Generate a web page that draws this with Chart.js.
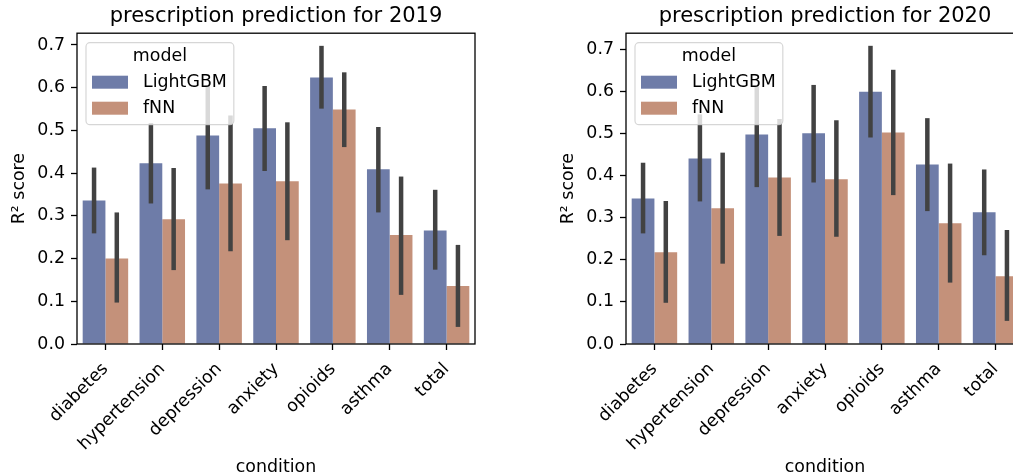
<!DOCTYPE html>
<html>
<head>
<meta charset="utf-8">
<script src="https://cdn.jsdelivr.net/npm/chart.js@4.4.0/dist/chart.umd.min.js"></script>
<style>
  html, body { margin: 0; padding: 0; background: #fff; overflow: hidden; }
  body { width: 1013px; height: 476px; position: relative; }
  .panel { position: absolute; top: 0; width: 552px; height: 476px; }
</style>
</head>
<body>
<div class="panel" style="left:0"><canvas id="chart2019"></canvas></div>
<div class="panel" style="left:548.5px"><canvas id="chart2020"></canvas></div>
<script>
// categories
const conditions = ['diabetes', 'hypertension', 'depression', 'anxiety', 'opioids', 'asthma', 'total'];
const models = ['LightGBM', 'fNN'];

// 2019 mean R2 and confidence interval ends
const lgbm2019 = [0.336, 0.423, 0.488, 0.505, 0.624, 0.409, 0.266];
const lgbm2019Lo = [0.259, 0.329, 0.362, 0.405, 0.551, 0.308, 0.174];
const lgbm2019Hi = [0.413, 0.517, 0.605, 0.604, 0.698, 0.508, 0.361];
const fnn2019 = [0.200, 0.292, 0.376, 0.381, 0.549, 0.255, 0.136];
const fnn2019Lo = [0.097, 0.173, 0.217, 0.243, 0.461, 0.115, 0.040];
const fnn2019Hi = [0.308, 0.412, 0.535, 0.519, 0.636, 0.392, 0.232];

// 2020
const lgbm2020 = [0.346, 0.441, 0.498, 0.501, 0.600, 0.427, 0.313];
const lgbm2020Lo = [0.263, 0.339, 0.373, 0.384, 0.491, 0.316, 0.211];
const lgbm2020Hi = [0.431, 0.546, 0.612, 0.616, 0.709, 0.537, 0.415];
const fnn2020 = [0.218, 0.323, 0.396, 0.392, 0.503, 0.287, 0.161];
const fnn2020Lo = [0.098, 0.191, 0.257, 0.255, 0.354, 0.146, 0.055];
const fnn2020Hi = [0.340, 0.455, 0.535, 0.532, 0.652, 0.429, 0.271];

const yTicks = [0, 0.1, 0.2, 0.3, 0.4, 0.5, 0.6, 0.7];

const BLUE = 'rgb(110,124,168)';
const ORANGE = 'rgb(196,145,122)';
const FONT = 'DejaVu Sans';

// error bars from dataset.ciLo / ciHi, drawn through the y scale
const errorBars = {
  id: 'errorBars',
  afterDatasetsDraw(chart) {
    const ctx = chart.ctx;
    const y = chart.scales.y;
    ctx.save();
    ctx.strokeStyle = 'rgb(66,66,66)';
    ctx.lineWidth = 4.5;
    chart.data.datasets.forEach((ds, i) => {
      chart.getDatasetMeta(i).data.forEach((bar, j) => {
        ctx.beginPath();
        ctx.moveTo(bar.x, y.getPixelForValue(ds.ciLo[j]));
        ctx.lineTo(bar.x, y.getPixelForValue(ds.ciHi[j]));
        ctx.stroke();
      });
    });
    ctx.restore();
  }
};

// matplotlib style frame + legend box
const frameAndLegend = {
  id: 'frameAndLegend',
  afterDraw(chart) {
    const ctx = chart.ctx;
    const a = chart.chartArea;
    ctx.save();
    ctx.strokeStyle = '#000';
    ctx.lineWidth = 1.3;
    ctx.strokeRect(a.left, a.top, a.right - a.left, a.bottom - a.top);

    // legend
    ctx.font = '17.4px "' + FONT + '"';
    let tw = 0;
    chart.data.datasets.forEach(ds => { tw = Math.max(tw, ctx.measureText(ds.label).width); });
    const bx = a.left + 9, by = a.top + 9.5;
    const bw = 6 + 36 + 15 + tw + 7, bh = 82;
    ctx.beginPath();
    ctx.roundRect(bx, by, bw, bh, 4);
    ctx.fillStyle = 'rgba(255,255,255,0.8)';
    ctx.fill();
    ctx.strokeStyle = 'rgba(204,204,204,0.8)';
    ctx.lineWidth = 1.2;
    ctx.stroke();

    ctx.fillStyle = '#000';
    ctx.textBaseline = 'middle';
    ctx.textAlign = 'center';
    ctx.fillText('model', bx + bw / 2, by + 14);
    ctx.textAlign = 'left';
    chart.data.datasets.forEach((ds, i) => {
      const ry = by + 33 + i * 26;
      ctx.fillStyle = ds.backgroundColor;
      ctx.fillRect(bx + 6, ry, 36, 13);
      ctx.fillStyle = '#000';
      ctx.fillText(ds.label, bx + 57, ry + 7);
    });
    ctx.restore();
  }
};

function makeChart(id, year, series, yMax) {
  return new Chart(document.getElementById(id), {
    type: 'bar',
    data: {
      labels: conditions,
      datasets: series.map((s, i) => ({
        label: models[i],
        data: s.mean,
        ciLo: s.lo,
        ciHi: s.hi,
        backgroundColor: i === 0 ? BLUE : ORANGE,
        borderWidth: 0,
        categoryPercentage: 0.8,
        barPercentage: 1.0
      }))
    },
    options: {
      responsive: true,
      maintainAspectRatio: false,
      animation: false,
      events: [],
      layout: { padding: { left: 0, right: 77, top: 0, bottom: 0 } },
      plugins: {
        legend: { display: false },
        tooltip: { enabled: false },
        title: {
          display: true,
          fullSize: false,
          text: 'prescription prediction for ' + year,
          color: '#000',
          font: { family: FONT, size: 21, weight: 'normal' },
          padding: { top: 4, bottom: 4 }
        }
      },
      scales: {
        x: {
          grid: { display: true, drawOnChartArea: false, offset: false, tickLength: 6, tickColor: '#000', tickWidth: 1.3 },
          border: { display: false },
          ticks: {
            color: '#000',
            font: { family: FONT, size: 17.4 },
            minRotation: 45, maxRotation: 45,
            padding: 9,
            autoSkip: false
          },
          title: {
            display: true, text: 'condition', color: '#000',
            font: { family: FONT, size: 17.4, lineHeight: 1.0 },
            padding: { top: 0, bottom: 0 }
          },
          afterFit(scale) { scale.height = 132; }
        },
        y: {
          min: 0,
          max: yMax,
          afterBuildTicks(scale) { scale.ticks = yTicks.map(v => ({ value: v })); },
          grid: { display: true, drawOnChartArea: false, tickLength: 6, tickColor: '#000', tickWidth: 1.3 },
          border: { display: false },
          ticks: {
            color: '#000',
            font: { family: FONT, size: 17.4 },
            padding: 6,
            callback: v => v.toFixed(1)
          },
          title: {
            display: true, text: 'R² score', color: '#000',
            font: { family: FONT, size: 17.4 },
            padding: { top: 9, bottom: 0 }
          },
          afterFit(scale) { scale.width = 77; }
        }
      }
    },
    plugins: [errorBars, frameAndLegend]
  });
}

makeChart('chart2019', 2019, [
  { mean: lgbm2019, lo: lgbm2019Lo, hi: lgbm2019Hi },
  { mean: fnn2019, lo: fnn2019Lo, hi: fnn2019Hi }
], 0.7276);

makeChart('chart2020', 2020, [
  { mean: lgbm2020, lo: lgbm2020Lo, hi: lgbm2020Hi },
  { mean: fnn2020, lo: fnn2020Lo, hi: fnn2020Hi }
], 0.739);
</script>
</body>
</html>
